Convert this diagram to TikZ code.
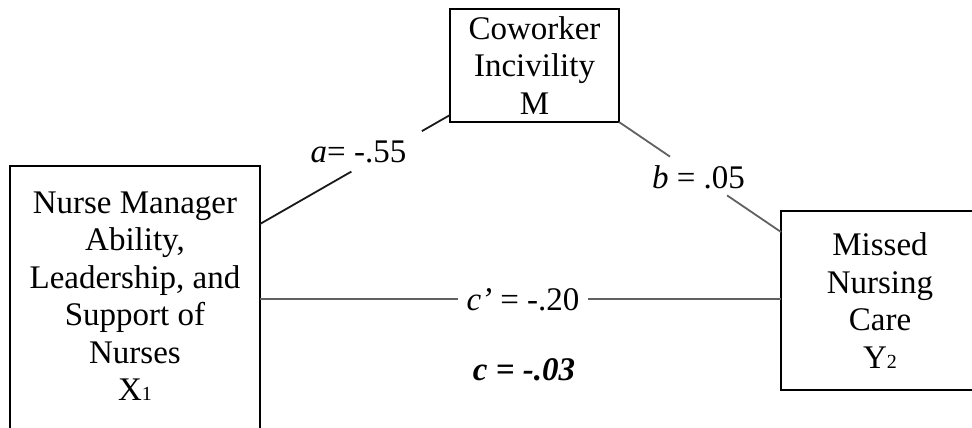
\documentclass[tikz,border=0pt]{standalone}
\usepackage{fontspec}
\setmainfont{Liberation Serif}
\usetikzlibrary{calc}
\begin{document}
\begin{tikzpicture}[x=1pt,y=-1pt,
  box/.style={draw=black, line width=2.4pt, outer sep=0pt, inner sep=0pt, align=center, font=\fontsize{33}{37.5}\selectfont},
  conn/.style={line width=1.8pt},
  lbl/.style={font=\fontsize{33}{37.5}\selectfont, anchor=base, inner sep=0pt}]
\useasboundingbox (0,0) rectangle (972,428);
\fill[white] (0,0) rectangle (972,428);
\node[box, minimum width=250pt, minimum height=266pt] (X) at (135,299)
  {Nurse Manager\\Ability,\\Leadership, and\\Support of\\Nurses\\X{\fontsize{20}{20}\selectfont 1}\rule[-6pt]{0pt}{6pt}};
\node[box, minimum width=169pt, minimum height=113pt] (M) at (534.5,65.5)
  {Coworker\\Incivility\\M};
\node[box, minimum width=198pt, minimum height=179pt] (Y) at (880,300.5)
  {Missed\\Nursing\\Care\\Y{\fontsize{20}{20}\selectfont 2}};
\coordinate (aS) at ([yshift=-58pt]X.north east);
\coordinate (aE) at ([yshift=7pt]M.south west);
\coordinate (bS) at (M.south east);
\coordinate (bE) at ([yshift=-21pt]Y.north west);
\coordinate (cS) at (X.east);
\coordinate (cE) at (X.east -| Y.west);
\draw[conn, draw=black!90] (aS) -- ($(aS)!0.481!(aE)$) ($(aS)!0.852!(aE)$) -- (aE);
\draw[conn, draw=black!62] (bS) -- ($(bS)!0.315!(bE)$) ($(bS)!0.667!(bE)$) -- (bE);
\draw[conn, draw=black!62] (cS) -- ($(cS)!0.38!(cE)$) ($(cS)!0.63!(cE)$) -- (cE);
\node[lbl] (la) at (358.5,162) {\textit{a}= -.55};
\node[lbl] (lb) at (698.5,188) {\textit{b} = .05};
\node[lbl] (lc) at (523,310.5) {\textit{c’} = -.20};
\node[lbl] (lt) at (524,380) {\bfseries\itshape c = -.03};
\end{tikzpicture}
\end{document}
